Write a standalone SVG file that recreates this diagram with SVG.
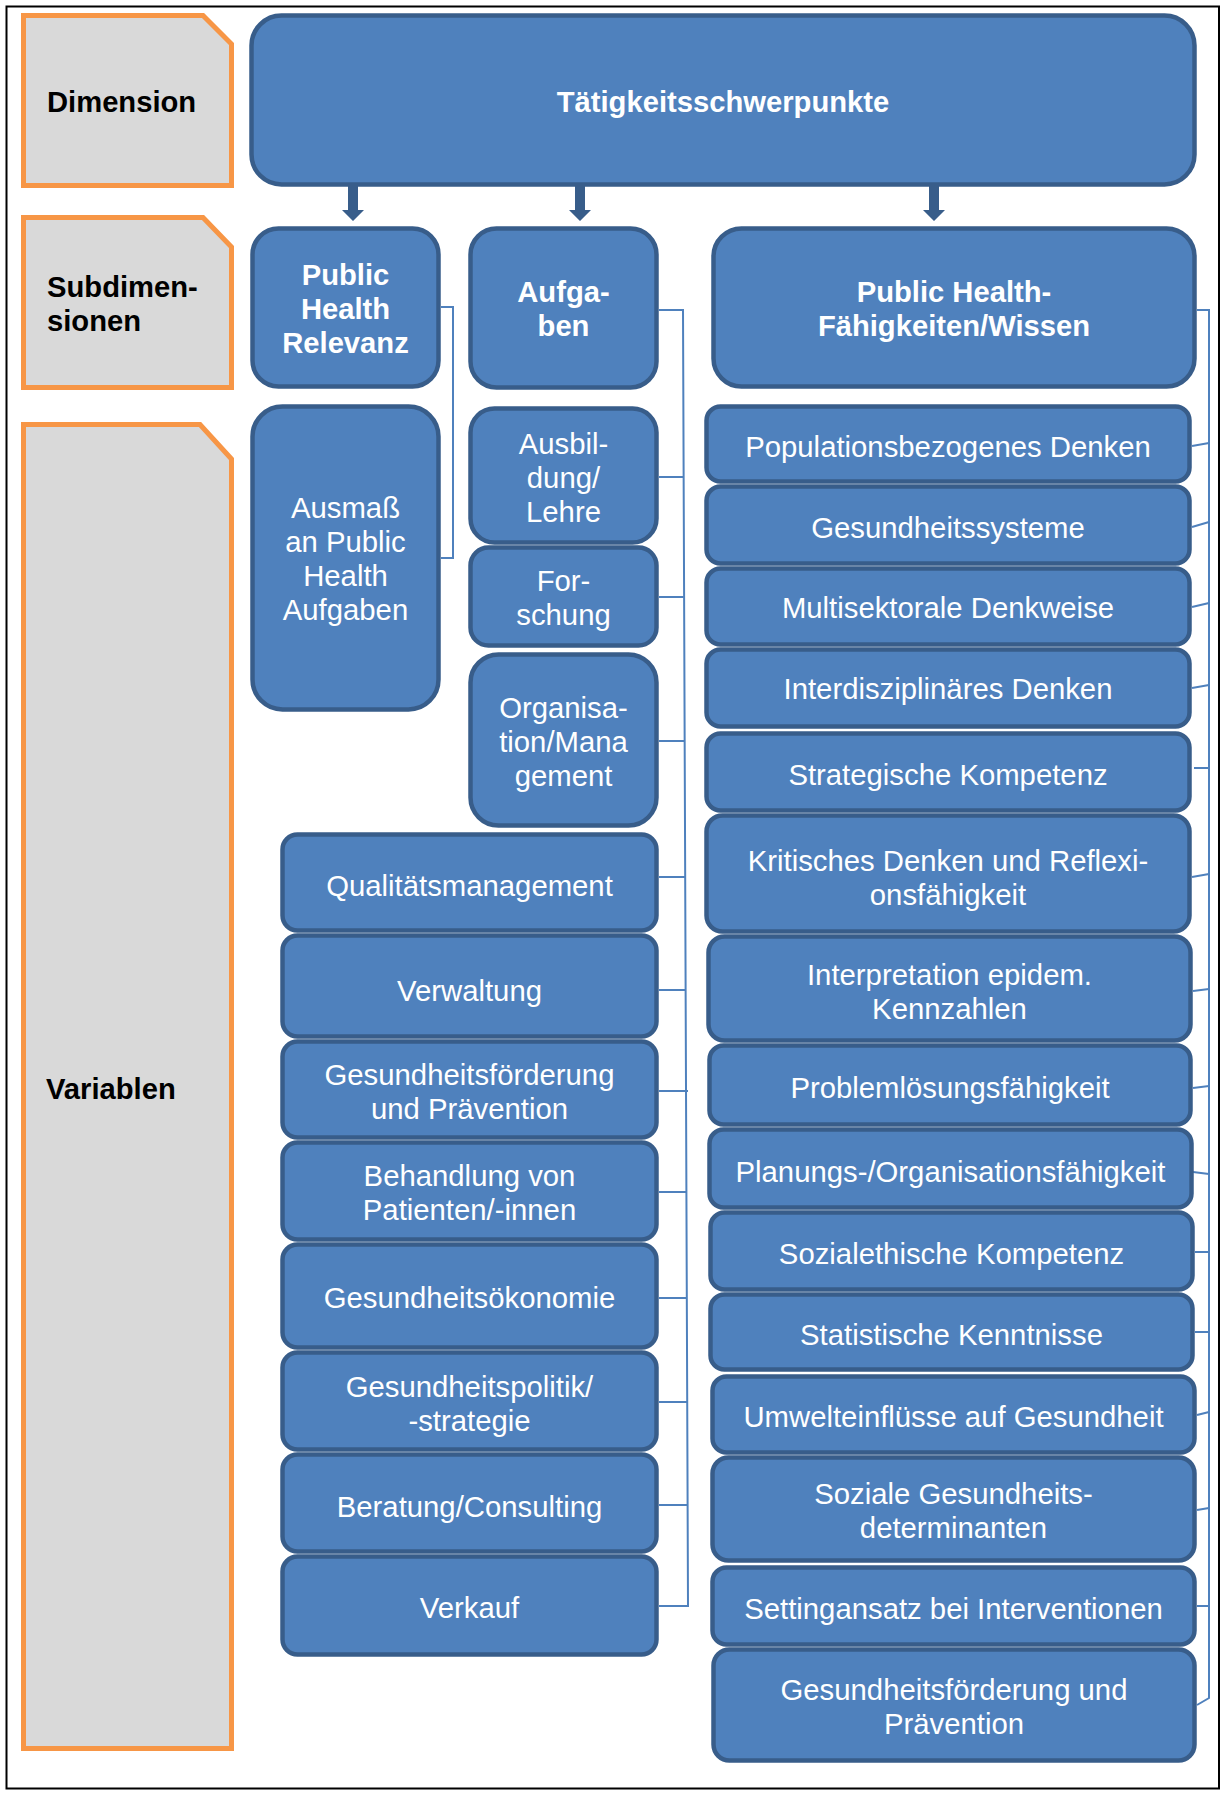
<svg xmlns="http://www.w3.org/2000/svg" width="1227" height="1794" viewBox="0 0 1227 1794">
  <style>
    .panel { fill: #D9D9D9; stroke: #F79646; stroke-width: 5; }
    .node { fill: #4F81BD; stroke: #385D8A; stroke-width: 4.5; }
    .lbl { font-family: "Liberation Sans", Arial, sans-serif; font-size: 29.2px; font-weight: bold; fill: #000000; }
    .hd { font-family: "Liberation Sans", Arial, sans-serif; font-size: 29.2px; font-weight: bold; fill: #FFFFFF; text-anchor: middle; }
    .tx { font-family: "Liberation Sans", Arial, sans-serif; font-size: 29.3px; fill: #FFFFFF; text-anchor: middle; }
    .ln { fill: none; stroke: #4F81BD; stroke-width: 2; }
    .arr { fill: #385D8A; }
  </style>

  <rect width="1227" height="1794" fill="#FFFFFF"/>
  <!-- outer frame -->
  <rect x="6.5" y="6.5" width="1212.5" height="1782" fill="none" stroke="#000000" stroke-width="2"/>

  <!-- row headings (grey panels with clipped corner) -->
  <g id="panel-dimension">
    <path class="panel" d="M23.5,15.5 H203 L231.5,44 V185.5 H23.5 Z"/>
    <text class="lbl" x="47" y="112">Dimension</text>
  </g>
  <g id="panel-subdimensionen">
    <path class="panel" d="M23.5,217.5 H203 L231.5,247 V387.5 H23.5 Z"/>
    <text class="lbl" x="47" y="297">Subdimen-</text>
    <text class="lbl" x="47" y="331">sionen</text>
  </g>
  <g id="panel-variablen">
    <path class="panel" d="M23.5,424.5 H200 L231.5,459 V1748.5 H23.5 Z"/>
    <text class="lbl" x="46" y="1099">Variablen</text>
  </g>

  <!-- connectors -->
  <g id="connectors">
    <!-- down arrows from the dimension -->
    <path class="arr" d="M348,185 H358 V210 H364 L353,221 L342,210 H348 Z"/>
    <path class="arr" d="M575,185 H585 V210 H591 L580,221 L569,210 H575 Z"/>
    <path class="arr" d="M929,185 H939 V210 H945 L934,221 L923,210 H929 Z"/>

    <!-- Public Health Relevanz bracket -->
    <path class="ln" d="M441,307 H453 V558 H441"/>

    <!-- Aufgaben bracket -->
    <path class="ln" d="M659,310 H683 L688,1606 H659"/>
    <path class="ln" d="M659,477 H683.3"/>
    <path class="ln" d="M659,597 H683.8"/>
    <path class="ln" d="M659,741 H684.4"/>
    <path class="ln" d="M659,877 H685"/>
    <path class="ln" d="M659,990 H685.4"/>
    <path class="ln" d="M659,1091 H688"/>
    <path class="ln" d="M659,1192 H686.2"/>
    <path class="ln" d="M659,1298 H686.6"/>
    <path class="ln" d="M659,1402 H687"/>
    <path class="ln" d="M659,1505 H687.5"/>

    <!-- Fähigkeiten/Wissen bracket -->
    <path class="ln" d="M1197,310 H1209 V1698 L1197,1705"/>
    <path class="ln" d="M1192,446 L1209,443"/>
    <path class="ln" d="M1192,527 L1209,522"/>
    <path class="ln" d="M1192,607 L1209,603"/>
    <path class="ln" d="M1192,688 L1209,685"/>
    <path class="ln" d="M1194,768 H1209"/>
    <path class="ln" d="M1192,877 L1209,874"/>
    <path class="ln" d="M1193,991 L1209,989"/>
    <path class="ln" d="M1193,1088 L1209,1086"/>
    <path class="ln" d="M1193,1172 L1209,1174"/>
    <path class="ln" d="M1195,1252 H1209"/>
    <path class="ln" d="M1195,1332 H1209"/>
    <path class="ln" d="M1197,1415 L1209,1412"/>
    <path class="ln" d="M1197,1510 L1209,1508"/>
    <path class="ln" d="M1197,1606 H1209"/>
  </g>

  <!-- dimension -->
  <g id="node-taetigkeitsschwerpunkte">
    <rect class="node" x="251.5" y="15.5" width="943" height="169" rx="30"/>
    <text class="hd" x="723" y="112">Tätigkeitsschwerpunkte</text>
  </g>

  <!-- subdimensions -->
  <g id="node-ph-relevanz">
    <rect class="node" x="252.5" y="228.5" width="186" height="158" rx="26"/>
    <text class="hd" x="345.5" y="285">Public</text>
    <text class="hd" x="345.5" y="319">Health</text>
    <text class="hd" x="345.5" y="353">Relevanz</text>
  </g>
  <g id="node-aufgaben">
    <rect class="node" x="470.5" y="228.5" width="186" height="159" rx="26"/>
    <text class="hd" x="563.5" y="301.5">Aufga-</text>
    <text class="hd" x="563.5" y="336">ben</text>
  </g>
  <g id="node-ph-faehigkeiten">
    <rect class="node" x="713.5" y="228.5" width="481" height="158" rx="28"/>
    <text class="hd" x="954" y="301.5">Public Health-</text>
    <text class="hd" x="954" y="336">Fähigkeiten/Wissen</text>
  </g>

  <!-- variables: Public Health Relevanz -->
  <g id="node-ausmass">
    <rect class="node" x="252.5" y="406.5" width="186" height="303" rx="30"/>
    <text class="tx" x="345.5" y="518">Ausmaß</text>
    <text class="tx" x="345.5" y="552">an Public</text>
    <text class="tx" x="345.5" y="586">Health</text>
    <text class="tx" x="345.5" y="620">Aufgaben</text>
  </g>

  <!-- variables: Aufgaben -->
  <g id="node-ausbildung">
    <rect class="node" x="470.5" y="408.5" width="186" height="134" rx="24"/>
    <text class="tx" x="563.5" y="454">Ausbil-</text>
    <text class="tx" x="563.5" y="488">dung/</text>
    <text class="tx" x="563.5" y="522">Lehre</text>
  </g>
  <g id="node-forschung">
    <rect class="node" x="470.5" y="547.5" width="186" height="98" rx="18"/>
    <text class="tx" x="563.5" y="591">For-</text>
    <text class="tx" x="563.5" y="625">schung</text>
  </g>
  <g id="node-organisation">
    <rect class="node" x="470.5" y="654.5" width="186" height="171" rx="28"/>
    <text class="tx" x="563.5" y="717.5">Organisa-</text>
    <text class="tx" x="563.5" y="751.5">tion/Mana</text>
    <text class="tx" x="563.5" y="785.5">gement</text>
  </g>
  <g id="node-qualitaetsmanagement">
    <rect class="node" x="282.5" y="834.5" width="374" height="96" rx="15"/>
    <text class="tx" x="469.5" y="896">Qualitätsmanagement</text>
  </g>
  <g id="node-verwaltung">
    <rect class="node" x="282.5" y="935.5" width="374" height="101" rx="15"/>
    <text class="tx" x="469.5" y="1001">Verwaltung</text>
  </g>
  <g id="node-gesundheitsfoerderung-a">
    <rect class="node" x="282.5" y="1041.5" width="374" height="96" rx="15"/>
    <text class="tx" x="469.5" y="1085">Gesundheitsförderung</text>
    <text class="tx" x="469.5" y="1119">und Prävention</text>
  </g>
  <g id="node-behandlung">
    <rect class="node" x="282.5" y="1142.5" width="374" height="97" rx="15"/>
    <text class="tx" x="469.5" y="1186">Behandlung von</text>
    <text class="tx" x="469.5" y="1220">Patienten/-innen</text>
  </g>
  <g id="node-gesundheitsoekonomie">
    <rect class="node" x="282.5" y="1244.5" width="374" height="103" rx="15"/>
    <text class="tx" x="469.5" y="1308">Gesundheitsökonomie</text>
  </g>
  <g id="node-gesundheitspolitik">
    <rect class="node" x="282.5" y="1352.5" width="374" height="97" rx="15"/>
    <text class="tx" x="469.5" y="1397">Gesundheitspolitik/</text>
    <text class="tx" x="469.5" y="1431">-strategie</text>
  </g>
  <g id="node-beratung">
    <rect class="node" x="282.5" y="1454.5" width="374" height="97" rx="15"/>
    <text class="tx" x="469.5" y="1516.5">Beratung/Consulting</text>
  </g>
  <g id="node-verkauf">
    <rect class="node" x="282.5" y="1556.5" width="374" height="98" rx="15"/>
    <text class="tx" x="469.5" y="1617.5">Verkauf</text>
  </g>

  <!-- variables: Public Health-Fähigkeiten/Wissen -->
  <g id="node-populationsbezogen">
    <rect class="node" x="706.5" y="406.5" width="483" height="75" rx="14"/>
    <text class="tx" x="948" y="457">Populationsbezogenes Denken</text>
  </g>
  <g id="node-gesundheitssysteme">
    <rect class="node" x="706.5" y="486.5" width="483" height="77" rx="14"/>
    <text class="tx" x="948" y="538">Gesundheitssysteme</text>
  </g>
  <g id="node-multisektoral">
    <rect class="node" x="706.5" y="568.5" width="483" height="76" rx="14"/>
    <text class="tx" x="948" y="618">Multisektorale Denkweise</text>
  </g>
  <g id="node-interdisziplinaer">
    <rect class="node" x="706.5" y="649.5" width="483" height="77" rx="14"/>
    <text class="tx" x="948" y="698.5">Interdisziplinäres Denken</text>
  </g>
  <g id="node-strategisch">
    <rect class="node" x="706.5" y="733.5" width="483" height="77" rx="14"/>
    <text class="tx" x="948" y="785">Strategische Kompetenz</text>
  </g>
  <g id="node-kritisch">
    <rect class="node" x="706.5" y="815.5" width="483" height="116" rx="16"/>
    <text class="tx" x="948" y="871">Kritisches Denken und Reflexi-</text>
    <text class="tx" x="948" y="905">onsfähigkeit</text>
  </g>
  <g id="node-interpretation">
    <rect class="node" x="708.5" y="936.5" width="482" height="104" rx="16"/>
    <text class="tx" x="949.5" y="985">Interpretation epidem.</text>
    <text class="tx" x="949.5" y="1019">Kennzahlen</text>
  </g>
  <g id="node-problemloesung">
    <rect class="node" x="709.5" y="1045.5" width="481" height="79" rx="14"/>
    <text class="tx" x="950" y="1098">Problemlösungsfähigkeit</text>
  </g>
  <g id="node-planung">
    <rect class="node" x="709.5" y="1129.5" width="482" height="78" rx="14"/>
    <text class="tx" x="950.5" y="1182">Planungs-/Organisationsfähigkeit</text>
  </g>
  <g id="node-sozialethisch">
    <rect class="node" x="710.5" y="1212.5" width="482" height="77" rx="14"/>
    <text class="tx" x="951.5" y="1263.5">Sozialethische Kompetenz</text>
  </g>
  <g id="node-statistik">
    <rect class="node" x="710.5" y="1294.5" width="482" height="75" rx="14"/>
    <text class="tx" x="951.5" y="1344.5">Statistische Kenntnisse</text>
  </g>
  <g id="node-umwelt">
    <rect class="node" x="712.5" y="1376.5" width="482" height="76" rx="14"/>
    <text class="tx" x="953.5" y="1427">Umwelteinflüsse auf Gesundheit</text>
  </g>
  <g id="node-soziale-determinanten">
    <rect class="node" x="712.5" y="1457.5" width="482" height="103" rx="16"/>
    <text class="tx" x="953.5" y="1504">Soziale Gesundheits-</text>
    <text class="tx" x="953.5" y="1538">determinanten</text>
  </g>
  <g id="node-settingansatz">
    <rect class="node" x="712.5" y="1567.5" width="482" height="77" rx="14"/>
    <text class="tx" x="953.5" y="1619">Settingansatz bei Interventionen</text>
  </g>
  <g id="node-gesundheitsfoerderung-b">
    <rect class="node" x="713.5" y="1649.5" width="481" height="111" rx="16"/>
    <text class="tx" x="954" y="1699.5">Gesundheitsförderung und</text>
    <text class="tx" x="954" y="1733.5">Prävention</text>
  </g>
</svg>
